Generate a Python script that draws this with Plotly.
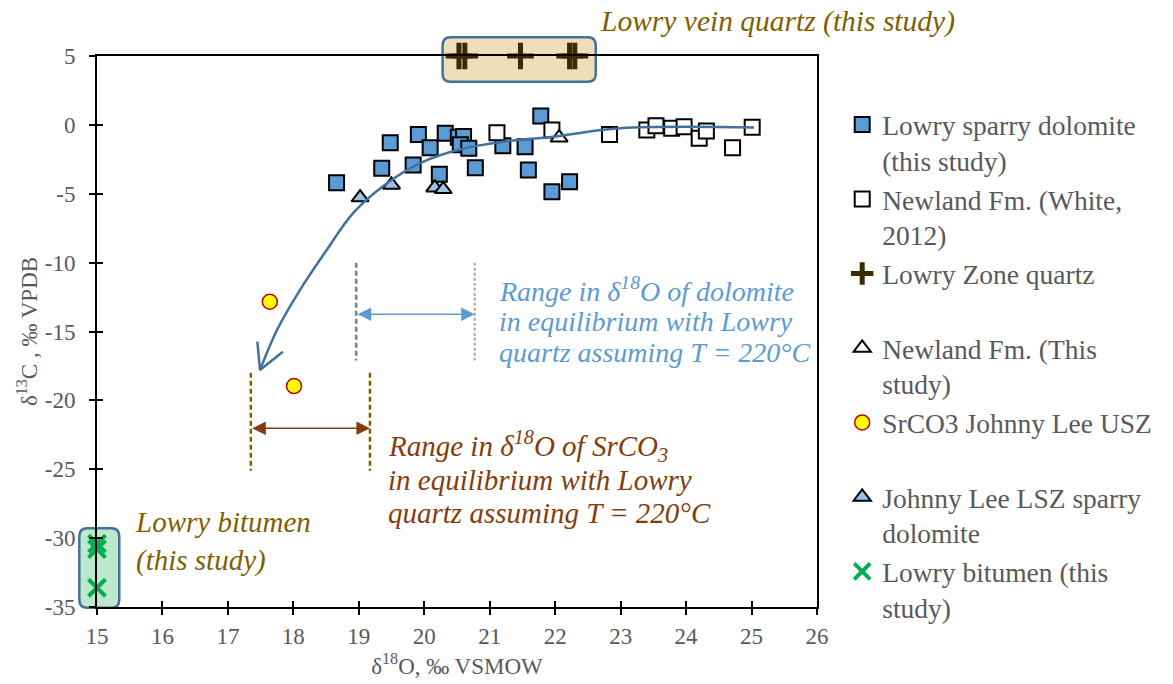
import plotly.graph_objects as go

# ---------------- data ----------------
X_RANGE = [15, 26]
Y_RANGE = [-35, 5]
x_tickvals = list(range(15, 27))
y_tickvals = [-35, -30, -25, -20, -15, -10, -5, 0, 5]
y_ticktext = ["-35", "-30", "-25", "-20", "-15", "-10", "-5", "0", "5"]

lowry_dol_x = [18.66, 19.35, 19.48, 19.83, 19.91, 20.09, 20.23, 20.32, 20.52, 20.60, 20.55, 20.68,
               20.78, 21.20, 21.54, 21.59, 21.78, 21.95, 22.22]
lowry_dol_y = [-4.20, -3.15, -1.29, -2.91, -0.69, -1.66, -3.59, -0.61, -0.90, -0.85, -1.45, -1.70,
               -3.11, -1.51, -1.58, -3.28, 0.64, -4.85, -4.12]

newland_white_x = [21.11, 21.95, 22.83, 23.40, 23.54, 23.78, 23.97, 24.20, 24.31, 24.71, 25.01]
newland_white_y = [-0.57, -0.37, -0.69, -0.37, -0.06, -0.25, -0.13, -0.98, -0.44, -1.66, -0.18]

quartz_x = [20.53, 20.62, 21.47, 22.22, 22.30]
quartz_y = [5, 5, 5, 5, 5]

newland_this_x = [22.06]
newland_this_y = [-0.93]

srco3_x = [17.64, 18.01]
srco3_y = [-12.84, -18.96]

jl_lsz_x = [19.02, 19.50, 20.16, 20.29]
jl_lsz_y = [-5.28, -4.36, -4.56, -4.68]

bitumen_x = [15.0, 15.0, 15.0]
bitumen_y = [-30.4, -30.8, -33.6]

# trend arrow (hand-drawn curve in the original)
curve_x = [25.04, 22.99, 21.97, 21.20, 20.55, 19.93, 19.43, 18.91, 18.51, 18.10, 17.75, 17.49]
curve_y = [-0.19, -0.25, -0.86, -1.22, -1.77, -2.79, -4.24, -6.42, -9.08, -11.99, -14.89, -17.79]
arrow_head_x = [17.45, 17.49, 17.84]
arrow_head_y = [-15.74, -17.79, -16.47]

# ranges
dol_range_x = [18.96, 20.77]
dol_range_y = [-10.0, -17.1]
dol_arrow_y = -13.75
sr_range_x = [17.35, 19.17]
sr_range_y = [-18.0, -25.1]
sr_arrow_y = -22.03

quartz_box = [20.28, 22.62, 3.13, 6.36]
bitumen_box = [14.73, 15.34, -35.05, -29.29]

dol_text_lines = ["Range in δ<sup>18</sup>O of dolomite", "in equilibrium with Lowry",
                  "quartz assuming T = 220°C"]
dol_text_x = 21.11
dol_text_y = [-11.95, -14.25, -16.5]

sr_text_lines = ["Range in δ<sup>18</sup>O of SrCO<sub>3</sub>", "in equilibrium with Lowry",
                 "quartz assuming T = 220°C"]
sr_text_x = 19.42
sr_text_y = [-23.3, -25.78, -28.2]

# ---------------- layout geometry ----------------
W, H = 1173, 684
ML, MR, MT, MB = 97, 356, 56, 77
PW = W - ML - MR
PH = H - MT - MB

FONT = "Liberation Serif, Times New Roman, serif"
GREY = "#595959"


def xp(v):
    return (v - X_RANGE[0]) / (X_RANGE[1] - X_RANGE[0])


def yp(v):
    return (v - Y_RANGE[0]) / (Y_RANGE[1] - Y_RANGE[0])


def rounded_rect(x0, x1, y0, y1, r=8):
    a, b, c, d = xp(x0), xp(x1), yp(y0), yp(y1)
    rx, ry = r / PW, r / PH
    return (f"M {a+rx},{c} L {b-rx},{c} Q {b},{c} {b},{c+ry} L {b},{d-ry} Q {b},{d} {b-rx},{d} "
            f"L {a+rx},{d} Q {a},{d} {a},{d-ry} L {a},{c+ry} Q {a},{c} {a+rx},{c} Z")


fig = go.Figure()

fig.add_trace(go.Scatter(
    x=lowry_dol_x, y=lowry_dol_y, mode="markers",
    name="Lowry sparry dolomite<br>(this study)",
    marker=dict(symbol="square", size=15, color="#5B9BD5", line=dict(color="#000000", width=2))))

fig.add_trace(go.Scatter(
    x=newland_white_x, y=newland_white_y, mode="markers",
    name="Newland Fm. (White,<br>2012)",
    marker=dict(symbol="square", size=15, color="#FFFFFF", line=dict(color="#000000", width=2))))

fig.add_trace(go.Scatter(
    x=quartz_x, y=quartz_y, mode="markers", cliponaxis=False,
    name="Lowry Zone quartz<br> ",
    marker=dict(symbol="cross-thin", size=19, color="#3B2B04", line=dict(color="#3B2B04", width=5))))

fig.add_trace(go.Scatter(
    x=newland_this_x, y=newland_this_y, mode="markers",
    name="Newland Fm. (This<br>study)",
    marker=dict(symbol="triangle-up", size=15, color="#FFFFFF", line=dict(color="#000000", width=2))))

fig.add_trace(go.Scatter(
    x=srco3_x, y=srco3_y, mode="markers",
    name="SrCO3 Johnny Lee USZ<br> ",
    marker=dict(symbol="circle", size=15, color="#FFFF00", line=dict(color="#C00000", width=1.5))))

fig.add_trace(go.Scatter(
    x=jl_lsz_x, y=jl_lsz_y, mode="markers",
    name="Johnny Lee LSZ sparry<br>dolomite",
    marker=dict(symbol="triangle-up", size=15, color="#9DC3E6", line=dict(color="#000000", width=2))))

fig.add_trace(go.Scatter(
    x=bitumen_x, y=bitumen_y, mode="markers", cliponaxis=False,
    name="Lowry bitumen (this<br>study)",
    marker=dict(symbol="x-thin", size=17, color="#00B050", line=dict(color="#00B050", width=4))))

# curved arrow
fig.add_trace(go.Scatter(
    x=curve_x, y=curve_y, mode="lines", showlegend=False, hoverinfo="skip",
    line=dict(color="#41719C", width=2.5, shape="spline", smoothing=1)))
fig.add_trace(go.Scatter(
    x=arrow_head_x, y=arrow_head_y, mode="lines", showlegend=False, hoverinfo="skip",
    line=dict(color="#41719C", width=2.5)))

# invisible trace for the inside half of the crossing tick marks
fig.add_trace(go.Scatter(x=[], y=[], xaxis="x2", yaxis="y2", showlegend=False, hoverinfo="skip"))

shapes = [
    dict(type="path", xref="paper", yref="paper", layer="below",
         path=rounded_rect(*quartz_box), fillcolor="#EEDFB8", line=dict(color="#41719C", width=2.5)),
    dict(type="path", xref="paper", yref="paper", layer="below",
         path=rounded_rect(*bitumen_box), fillcolor="#BCE8CB", line=dict(color="#41719C", width=2.5)),
    dict(type="line", xref="x", yref="y", x0=dol_range_x[0], x1=dol_range_x[0],
         y0=dol_range_y[0], y1=dol_range_y[1], line=dict(color="#7F7F7F", width=2.5, dash="5px,3px")),
    dict(type="line", xref="x", yref="y", x0=dol_range_x[1], x1=dol_range_x[1],
         y0=dol_range_y[0], y1=dol_range_y[1], line=dict(color="#A6A6A6", width=2, dash="3px,2px")),
    dict(type="line", xref="x", yref="y", x0=sr_range_x[0], x1=sr_range_x[0],
         y0=sr_range_y[0], y1=sr_range_y[1], line=dict(color="#7F6000", width=2.5, dash="5px,3px")),
    dict(type="line", xref="x", yref="y", x0=sr_range_x[1], x1=sr_range_x[1],
         y0=sr_range_y[0], y1=sr_range_y[1], line=dict(color="#7F6000", width=2.5, dash="5px,3px")),
]

annotations = [
    # double arrows
    dict(x=dol_range_x[1], y=dol_arrow_y, ax=dol_range_x[0], ay=dol_arrow_y, xref="x", yref="y",
         axref="x", ayref="y", text="", showarrow=True, arrowside="end+start", arrowhead=2,
         arrowsize=1.8, arrowwidth=1.5, arrowcolor="#5B9BD5", standoff=0, startstandoff=0),
    dict(x=sr_range_x[1], y=sr_arrow_y, ax=sr_range_x[0], ay=sr_arrow_y, xref="x", yref="y",
         axref="x", ayref="y", text="", showarrow=True, arrowside="end+start", arrowhead=2,
         arrowsize=1.8, arrowwidth=1.5, arrowcolor="#843C0C", standoff=0, startstandoff=0),
    dict(x=15.55, y=-30.21, xref="x", yref="y", xanchor="left", yanchor="middle", align="left",
         showarrow=False, text="<i>Lowry bitumen<br>(this study)</i>",
         font=dict(family=FONT, size=29, color="#7F6000")),
    dict(x=22.65, y=1 + (MT - 22) / PH, xref="x", yref="paper", xanchor="left", yanchor="middle",
         align="left", showarrow=False, text="<i>Lowry vein quartz (this study)</i>",
         font=dict(family=FONT, size=29.5, color="#7F6000")),
]
for t, yy in zip(dol_text_lines, dol_text_y):
    annotations.append(dict(x=dol_text_x, y=yy, xref="x", yref="y", xanchor="left", yanchor="middle",
                            showarrow=False, text=f"<i>{t}</i>",
                            font=dict(family=FONT, size=28, color="#5B9BD5")))
for t, yy in zip(sr_text_lines, sr_text_y):
    annotations.append(dict(x=sr_text_x, y=yy, xref="x", yref="y", xanchor="left", yanchor="middle",
                            showarrow=False, text=f"<i>{t}</i>",
                            font=dict(family=FONT, size=29, color="#843C0C")))

fig.update_layout(
    width=W, height=H,
    margin=dict(l=ML, r=MR, t=MT, b=MB, autoexpand=False),
    paper_bgcolor="#FFFFFF", plot_bgcolor="#FFFFFF",
    font=dict(family=FONT, color=GREY, size=23),
    showlegend=True,
    legend=dict(x=1.035, y=0.92, xanchor="left", yanchor="top", valign="top",
                font=dict(family=FONT, size=27.5, color=GREY), bgcolor="rgba(0,0,0,0)",
                itemsizing="trace"),
    xaxis=dict(range=X_RANGE, tickvals=x_tickvals, showgrid=False, zeroline=False,
               showline=True, linecolor="#000000", linewidth=2, mirror=True,
               ticks="outside", ticklen=6, tickwidth=2, tickcolor="#000000",
               ticklabelstandoff=1,
               tickfont=dict(family=FONT, size=23, color=GREY),
               title=dict(text="δ<sup>18</sup>O, ‰ VSMOW", font=dict(family=FONT, size=23, color=GREY),
                          standoff=10)),
    yaxis=dict(range=Y_RANGE, tickvals=y_tickvals, ticktext=y_ticktext, showgrid=False, zeroline=False,
               showline=True, linecolor="#000000", linewidth=2, mirror=True,
               ticks="outside", ticklen=6, tickwidth=2, tickcolor="#000000",
               ticklabelstandoff=9,
               tickfont=dict(family=FONT, size=23, color=GREY),
               title=dict(text="δ<sup>13</sup>C , ‰ VPDB", font=dict(family=FONT, size=23, color=GREY),
                          standoff=1)),
    xaxis2=dict(range=X_RANGE, overlaying="x", anchor="y2", side="bottom", tickvals=x_tickvals,
                showticklabels=False, showgrid=False, zeroline=False, showline=False,
                ticks="inside", ticklen=6, tickwidth=2, tickcolor="#000000"),
    yaxis2=dict(range=Y_RANGE, overlaying="y", anchor="x2", side="left", tickvals=y_tickvals,
                showticklabels=False, showgrid=False, zeroline=False, showline=False,
                ticks="inside", ticklen=6, tickwidth=2, tickcolor="#000000"),
    shapes=shapes,
    annotations=annotations,
)

fig.write_html("out.html")
